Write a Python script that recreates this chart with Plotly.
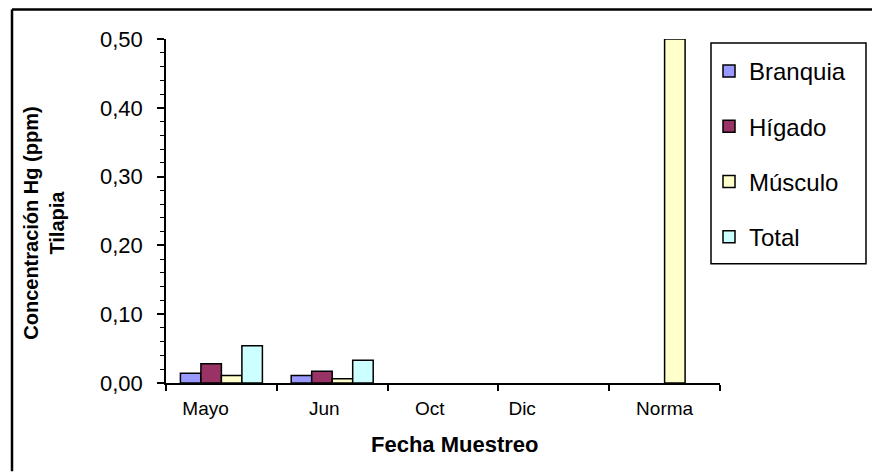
import plotly.graph_objects as go

# Mercury concentration in tilapia tissues by sampling date
fechas = ["Mayo", "Jun", "Oct", "Dic", "Norma"]
branquia = [0.014, 0.011, None, None, None]
higado = [0.028, 0.017, None, None, None]
musculo = [0.011, 0.006, None, None, 0.50]
total = [0.054, 0.033, None, None, None]

series = [
    ("Branquia", branquia, "#9999FF"),
    ("Hígado", higado, "#993366"),
    ("Músculo", musculo, "#FFFFCC"),
    ("Total", total, "#CCFFFF"),
]

# tick labels padded so they sit where the sheet places them
etiquetas = ["Mayo" + "\u00a0" * 6, "Jun" + "\u00a0" * 3, "Oct" + "\u00a0" * 5,
             "Dic" + "\u00a0" * 12, "Norma"]

FONT = "Liberation Sans, Arial, sans-serif"

# plot-area geometry (pixels) used to place frame, legend box and titles
L, R, T, B = 166, 720, 39, 383.5
W, H = R - L, B - T


def px(x):
    return (x - L) / W


def py(y):
    return (B - y) / H


fig = go.Figure()
for i, (nombre, valores, color) in enumerate(series):
    fig.add_trace(go.Bar(
        name=nombre, x=fechas, y=valores,
        marker=dict(color=color, line=dict(color="black", width=1.5)),
        legendgroup=f"g{i}",
    ))

fig.update_layout(
    width=872, height=472,
    margin=dict(l=L, r=872 - R, t=T, b=472 - B, autoexpand=False),
    paper_bgcolor="white", plot_bgcolor="white",
    barmode="group", bargap=0.26, bargroupgap=0,
    separators=",.",
    font=dict(family=FONT, color="black"),
    showlegend=True,
    legend=dict(
        xref="container", yref="container",
        x=709 / 872, y=1 - 49 / 472, xanchor="left", yanchor="top",
        borderwidth=0, bgcolor="rgba(0,0,0,0)",
        font=dict(size=24, family=FONT, color="black"),
        tracegroupgap=21, itemwidth=30,
    ),
    xaxis=dict(
        type="category", categoryorder="array", categoryarray=fechas,
        tickvals=fechas, ticktext=etiquetas,
        showline=True, linecolor="black", linewidth=1.5,
        ticks="outside", ticklen=6, tickwidth=1.5, tickcolor="black",
        tickson="boundaries", showgrid=False,
        tickfont=dict(size=19, family=FONT),
        ticklabelstandoff=7,
    ),
    yaxis=dict(
        range=[0, 0.5], dtick=0.1, tickformat=".2f",
        showline=True, linecolor="black", linewidth=1.5,
        ticks="outside", ticklen=7, tickwidth=1.5, tickcolor="black",
        showgrid=False, zeroline=False,
        tickfont=dict(size=22, family=FONT),
        ticklabelstandoff=10,
        minor=dict(dtick=0.02, ticks="outside", ticklen=4, tickwidth=1.2,
                   tickcolor="black", showgrid=False),
    ),
    # inner half of the major ticks, so they cross the value axis
    yaxis2=dict(
        overlaying="y", side="left", range=[0, 0.5], dtick=0.1,
        ticks="inside", ticklen=6, tickwidth=1.5, tickcolor="black",
        showticklabels=False, showline=False, showgrid=False, zeroline=False,
    ),
    annotations=[
        dict(text="<b>Concentración Hg (ppm)<br>Tilapia</b>", textangle=-90,
             xref="paper", yref="paper", x=px(44), y=py(224),
             xanchor="center", yanchor="middle", showarrow=False,
             font=dict(size=20, family=FONT, color="black")),
        dict(text="<b>Fecha Muestreo</b>",
             xref="paper", yref="paper", x=px(455), y=py(445),
             xanchor="center", yanchor="middle", showarrow=False,
             font=dict(size=22, family=FONT, color="black")),
    ],
    shapes=[
        # chart-area frame (top and left edges)
        dict(type="line", xref="paper", yref="paper",
             x0=px(12), x1=px(872), y0=py(9.5), y1=py(9.5),
             line=dict(color="black", width=2.5)),
        dict(type="line", xref="paper", yref="paper",
             x0=px(12), x1=px(12), y0=py(9.5), y1=py(472),
             line=dict(color="black", width=2.5)),
        # legend box
        dict(type="rect", xref="paper", yref="paper",
             x0=px(711), x1=px(866), y0=py(264), y1=py(43),
             line=dict(color="black", width=1.5), fillcolor="rgba(0,0,0,0)"),
    ],
)

fig.write_html("out.html")
